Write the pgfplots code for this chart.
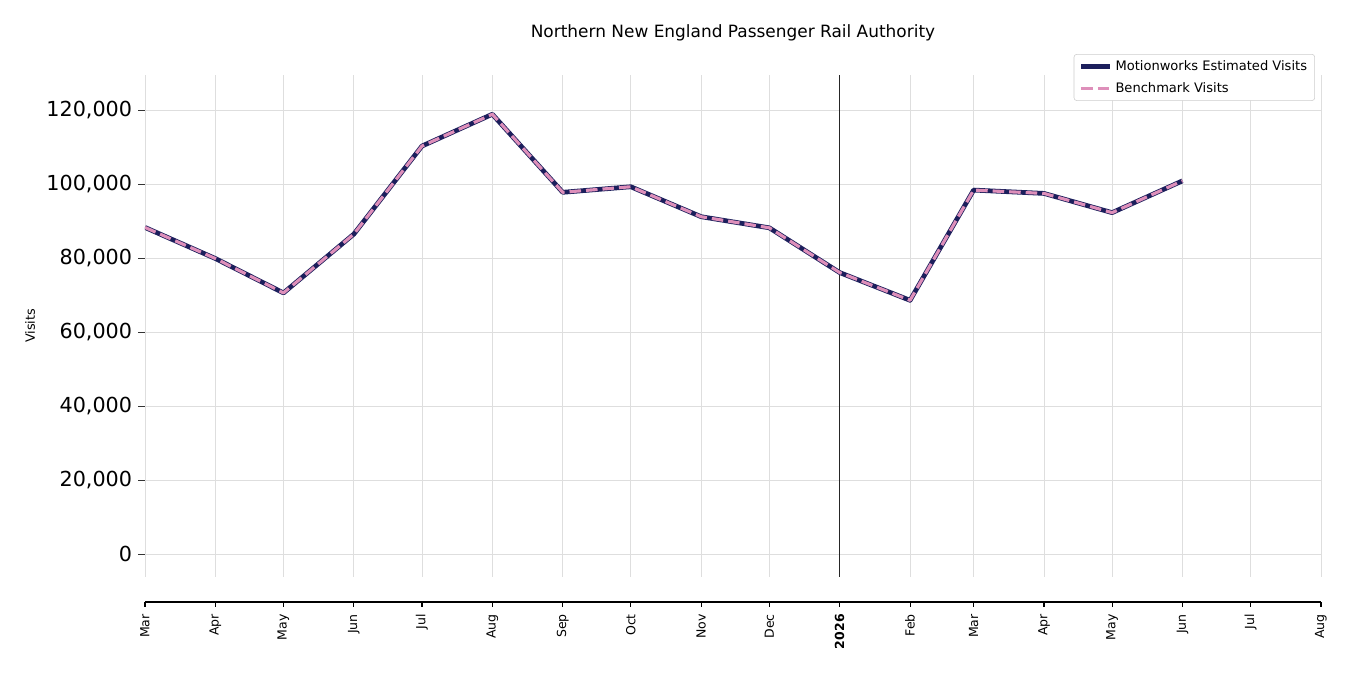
\documentclass[border=0pt]{standalone}
\usepackage{fontspec}
\setmainfont{DejaVu Sans}
\usepackage{pgfplots}
\pgfplotsset{compat=1.18}
\definecolor{navyline}{RGB}{28,31,92}
\definecolor{pinkline}{RGB}{222,143,186}
\definecolor{gridgray}{RGB}{222,222,222}
\begin{document}
\begin{tikzpicture}
\useasboundingbox (-104.4pt,-70.56pt) rectangle (867.6pt,415.44pt);
\begin{axis}[
  scale only axis, width=846.7pt, height=361.4pt,
  at={(0,0)}, anchor=south west,
  xmin=0, xmax=518, ymin=-6200, ymax=129500,
  axis line style={draw=none},
  xtick={0,31,61,92,122,153,184,214,245,275,306,337,365,396,426,457,487,518},
  xticklabels={}, xtick style={draw=none},
  ytick={0,20000,40000,60000,80000,100000,120000},
  ytick pos=left, tick align=outside, major tick length=5pt,
  ytick style={black!80, line width=0.8pt},
  scaled y ticks=false,
  /pgf/number format/.cd, 1000 sep={,}, fixed, assume math mode=true,
  /pgfplots/.cd,
  yticklabel style={font=\fontsize{14.9}{16}\selectfont, xshift=-0.8pt},
  grid=major, grid style={gridgray, line width=0.6pt},
  ylabel={Visits},
  ylabel style={at={(axis description cs:-0.0978,0.5)}, anchor=center, font=\fontsize{9.2}{10}\selectfont},
  title={Northern New England Passenger Rail Authority},
  title style={at={(axis description cs:0.5,1.0677)}, anchor=center, font=\fontsize{12.2}{14}\selectfont},
  legend style={at={(axis description cs:0.9949,1.0418)}, anchor=north east,
    font=\fontsize{9.4}{10}\selectfont, draw=black!20, rounded corners=2pt,
    inner xsep=3.5pt, inner ysep=2.5pt, row sep=3pt},
  legend cell align=left,
  legend image code/.code={\draw[#1] (0pt,0pt) -- (21pt,0pt);},
]
\addplot[black!85, line width=0.7pt, forget plot] coordinates {(306,-6200) (306,129500)};
\addplot[navyline, line width=3.4pt, line join=round] coordinates {
(0,88300) (31,79900) (61,70600) (92,86500) (122,110300) (153,118900)
(184,97800) (214,99300) (245,91200) (275,88200) (306,76100) (337,68600)
(365,98400) (396,97500) (426,92300) (457,100900)};
\addlegendentry{Motionworks Estimated Visits}
\addplot[pinkline, line width=2.25pt, dash pattern=on 8.3pt off 3.6pt, line join=round] coordinates {
(0,88300) (31,79900) (61,70600) (92,86500) (122,110300) (153,118900)
(184,97800) (214,99300) (245,91200) (275,88200) (306,76100) (337,68600)
(365,98400) (396,97500) (426,92300) (457,100900)};
\addlegendentry{Benchmark Visits}
\end{axis}
\begin{axis}[
  scale only axis, width=846.7pt, height=1pt,
  at={(0,-18pt)}, anchor=south west,
  xmin=0, xmax=518, ymin=0, ymax=1,
  axis x line*=bottom, axis y line=none,
  axis line style={black, line width=1.1pt},
  xtick={0,31,61,92,122,153,184,214,245,275,306,337,365,396,426,457,487,518},
  xticklabels={Mar,Apr,May,Jun,Jul,Aug,Sep,Oct,Nov,Dec,\textbf{2026},Feb,Mar,Apr,May,Jun,Jul,Aug},
  tick align=outside, major tick length=3.6pt,
  xtick style={black, line width=0.8pt},
  xticklabel style={rotate=90, anchor=east, inner xsep=5pt, font=\fontsize{9}{10}\selectfont},
]
\end{axis}
\end{tikzpicture}
\end{document}
